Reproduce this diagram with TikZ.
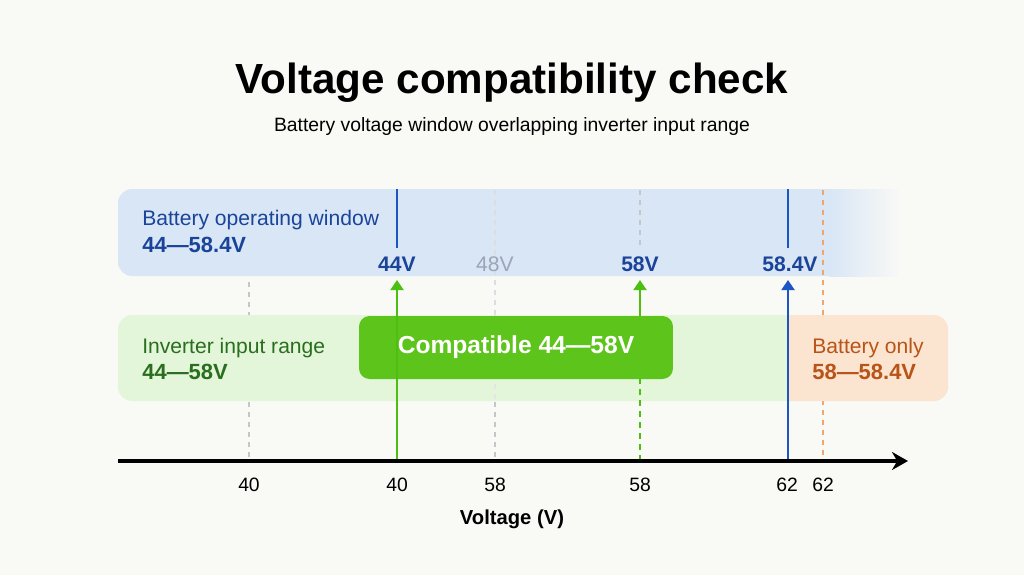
\documentclass[tikz,border=0pt]{standalone}
\usepackage{fontspec}
\setmainfont{Liberation Sans}
\usetikzlibrary{arrows.meta}

\definecolor{bgpaper}{HTML}{F9F9F6}
\definecolor{bandblue}{HTML}{D9E6F6}
\definecolor{bandgreen}{HTML}{E4F6D9}
\definecolor{bandorange}{HTML}{FCE5D0}
\definecolor{compatgreen}{HTML}{5CC41A}
\definecolor{linegreen}{HTML}{4CBF12}
\definecolor{lineblue}{HTML}{1D56C4}
\definecolor{txtblue}{HTML}{1A449A}
\definecolor{txtgray}{HTML}{9AA6B8}
\definecolor{txtgreen}{HTML}{2A6E1F}
\definecolor{txtorange}{HTML}{B85418}
\definecolor{dashorange}{HTML}{F2A56A}
\definecolor{dashgray}{HTML}{C4C6C8}

\begin{document}
\begin{tikzpicture}[x=0.02cm, y=-0.02cm,
    bandtxt/.style={anchor=base west, inner sep=0pt, font=\fontsize{12}{14}\selectfont},
    bandval/.style={anchor=base west, inner sep=0pt, font=\bfseries\fontsize{12.5}{15}\selectfont},
    vlabel/.style={anchor=base, font=\bfseries\fontsize{12}{14}\selectfont},
    ticklab/.style={anchor=base, font=\fontsize{11}{13}\selectfont},
    guide/.style={dashgray, line width=0.7pt, dash pattern=on 1mm off 1mm},
    garrow/.style={linegreen, line width=1.1pt, -{Triangle[length=2mm, width=2.6mm]}},
    barrow/.style={lineblue, line width=1.1pt, -{Triangle[length=2mm, width=2.6mm]}}]
    \useasboundingbox (0,0) rectangle (1024,575);
    \fill[bgpaper] (0,0) rectangle (1024,575);

    % title
    \node[anchor=base, font=\bfseries\fontsize{24}{28}\selectfont] (title) at (512,93) {Voltage compatibility check};
    \node[anchor=base, font=\fontsize{11}{13}\selectfont] (subtitle) at (512,131) {Battery voltage window overlapping inverter input range};

    % battery band
    \fill[bandblue, rounded corners=8pt] (118,189) rectangle (850,276);
    \shade[left color=bandblue, right color=bgpaper] (830,189) rectangle (900,276);
    \node[bandtxt, txtblue] (battxt) at (142,225) {Battery operating window};
    \node[bandval, txtblue] (batval) at (142,252) {44—58.4V};

    % guide lines
    \draw[guide] (249,282) -- (249,460);
    \draw[guide] (640,190) -- (640,246);
    \draw[dashorange, line width=0.8pt, dash pattern=on 1mm off 1mm] (823,190) -- (823,460);

    % inverter band
    \begin{scope}
        \clip (100,300) rectangle (788,410);
        \fill[bandgreen, rounded corners=8pt] (118,315) rectangle (830,401);
    \end{scope}
    \node[bandtxt, txtgreen] (invtxt) at (142,353) {Inverter input range};
    \node[bandval, txtgreen] (invval) at (142,379) {44—58V};

    % battery only
    \begin{scope}
        \clip (788,300) rectangle (960,410);
        \fill[bandorange, rounded corners=8pt] (760,315) rectangle (948,401);
    \end{scope}
    \node[bandtxt, txtorange] (onlytxt) at (812,353) {Battery only};
    \node[bandval, txtorange] (onlyval) at (812,379) {58—58.4V};

    \draw[guide, dashgray!60] (495,190) -- (495,314);
    \draw[guide, dashgray!45] (495,314) -- (495,402);
    \draw[guide] (495,402) -- (495,460);

    % compatible box
    \node[fill=compatgreen, rounded corners=6pt, text=white, minimum width=6.28cm, minimum height=1.26cm,
        font=\bfseries\fontsize{14}{17}\selectfont] (compat) at (516,347.5) {Compatible 44—58V};

    % band labels
    \draw[lineblue, line width=1.1pt] (397,189) -- (397,248);
    \draw[lineblue, line width=1.1pt] (788,189) -- (788,248);
    \node[vlabel, txtblue] (l44) at (397,271) {44V};
    \node[vlabel, font=\fontsize{12}{14}\selectfont, txtgray] (l48) at (495,271) {48V};
    \node[vlabel, txtblue] (l58) at (640,271) {58V};
    \node[vlabel, txtblue] (l584) at (790,271) {58.4V};

    % axis
    \coordinate (axs) at (118,461);
    \coordinate (axe) at (908,461);
    \coordinate (x44) at (397,461);
    \coordinate (x58) at (640,461);
    \coordinate (x62) at (788,461);
    \coordinate (t44) at (397,280);
    \coordinate (t58) at (640,280);
    \coordinate (t62) at (788,280);

    \draw[garrow] (x44) -- (t44);
    \draw[linegreen, line width=1.1pt, dash pattern=on 1.2mm off 1mm] (x58) -- (x58 |- compat.south);
    \draw[garrow] (x58 |- compat.north) -- (t58);
    \draw[barrow] (x62) -- (t62);

    \draw[line width=1.8pt, -{Stealth[length=3.2mm, width=3.6mm]}] (axs) -- (axe);

    \node[ticklab] (n40a) at (249,491) {40};
    \node[ticklab] (n40b) at (397,491) {40};
    \node[ticklab] (n58a) at (495,491) {58};
    \node[ticklab] (n58b) at (640,491) {58};
    \node[ticklab] (n62a) at (787,491) {62};
    \node[ticklab] (n62b) at (823,491) {62};
    \node[anchor=base, font=\bfseries\fontsize{11.5}{14}\selectfont] (axlab) at (512,524) {Voltage (V)};
\end{tikzpicture}
\end{document}
